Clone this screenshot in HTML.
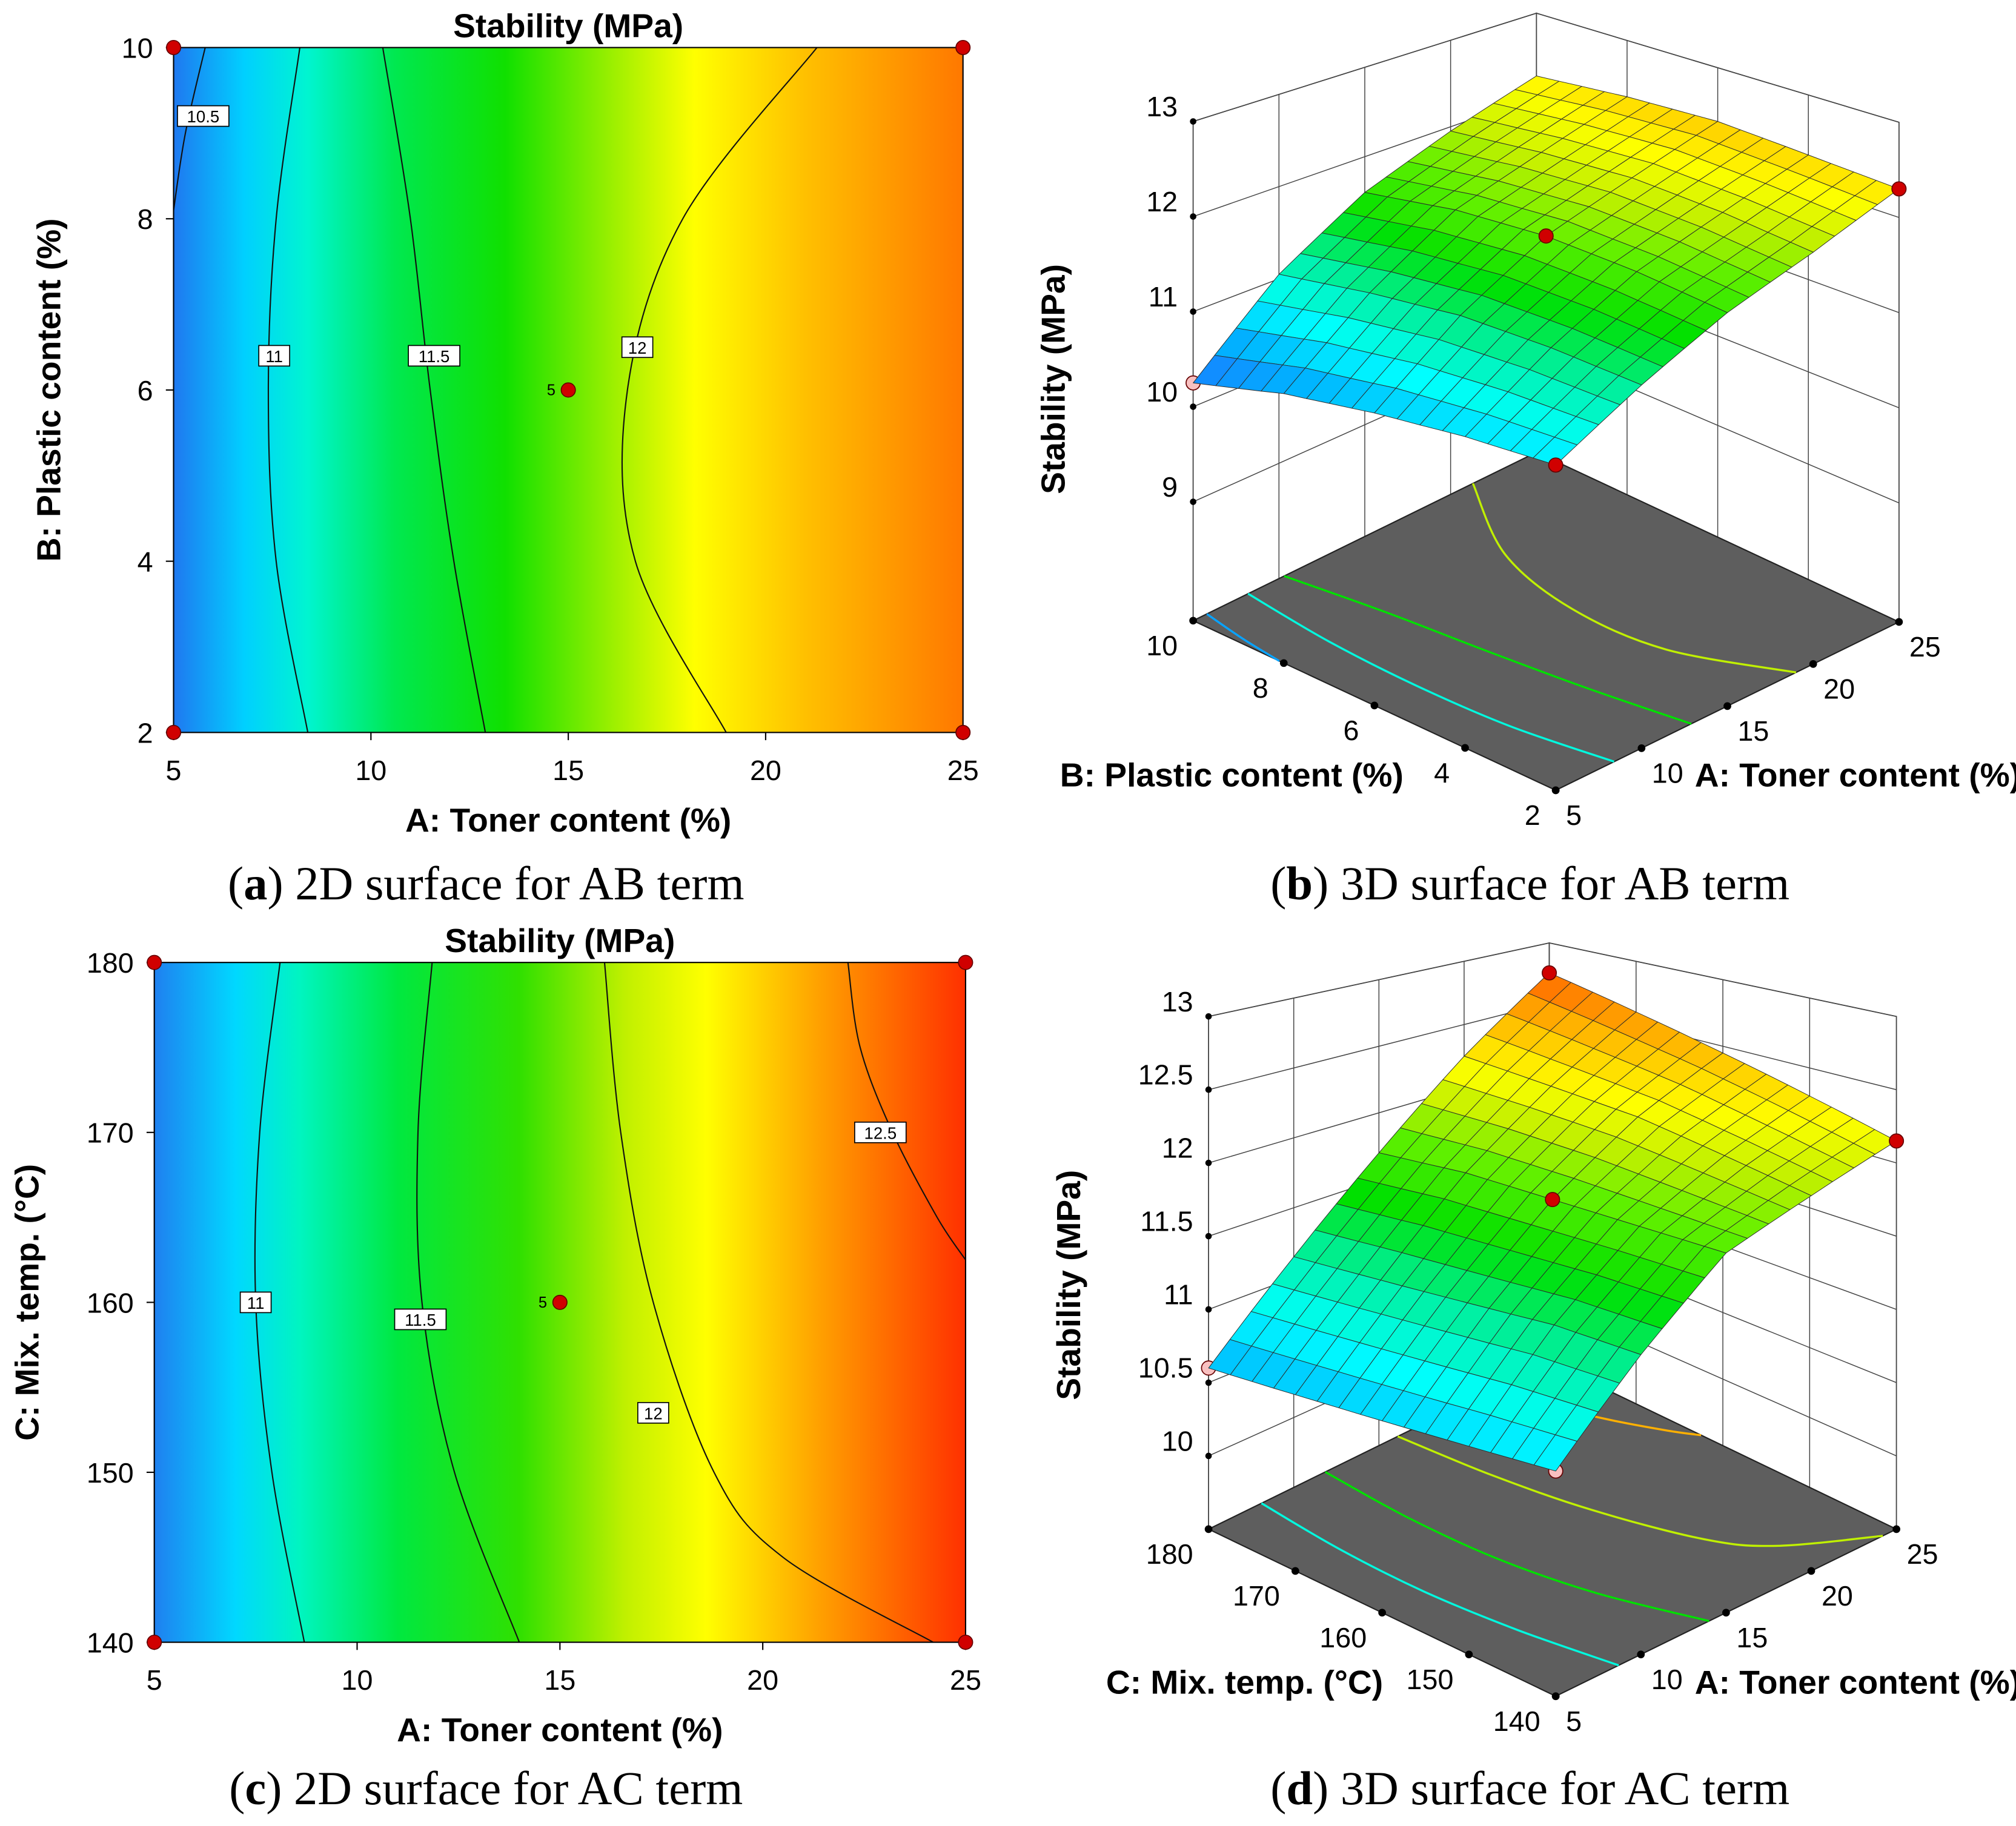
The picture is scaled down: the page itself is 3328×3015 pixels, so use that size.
<!DOCTYPE html>
<html><head><meta charset="utf-8">
<style>
html,body{margin:0;padding:0;background:#fff;}
svg{display:block;}
text{font-family:"Liberation Sans",Arial,sans-serif;}
.cap{font-family:"Liberation Serif",serif;font-size:37px;}
.ax{font-weight:bold;font-size:26px;}
.tk{font-size:22px;}
</style></head><body>
<svg id="fig" width="3328" height="3015" viewBox="0 0 1568 1421" preserveAspectRatio="none" xmlns="http://www.w3.org/2000/svg">
<defs>
<linearGradient id="gA" x1="0" x2="1" y1="0" y2="0">
<stop offset="0" stop-color="#1f78f0"/><stop offset="0.09" stop-color="#00d0ff"/><stop offset="0.17" stop-color="#00f5d0"/><stop offset="0.28" stop-color="#00e850"/><stop offset="0.42" stop-color="#10e000"/><stop offset="0.56" stop-color="#a0f000"/><stop offset="0.66" stop-color="#ffff00"/><stop offset="0.8" stop-color="#ffc000"/><stop offset="1" stop-color="#ff7800"/>
</linearGradient>
<linearGradient id="gC" x1="0" x2="1" y1="0" y2="0">
<stop offset="0" stop-color="#1f80f0"/><stop offset="0.1" stop-color="#00d8ff"/><stop offset="0.18" stop-color="#00f5c0"/><stop offset="0.3" stop-color="#00e840"/><stop offset="0.45" stop-color="#30e000"/><stop offset="0.58" stop-color="#c0f000"/><stop offset="0.68" stop-color="#ffff00"/><stop offset="0.82" stop-color="#ffa000"/><stop offset="1" stop-color="#ff3000"/>
</linearGradient>
</defs>
<g id="root"></g>
</svg>
<script>
// ---------- data ----------
const aTicks=[5,10,15,20,25];
const bTicks=[2,4,6,8,10];
const cTicks=[140,150,160,170,180];
const zTicksB=[9,10,11,12,13];
const zTicksD=[10,10.5,11,11.5,12,12.5,13];
// surface values Zab[b index][a index]
const Zab=[[10.80,11.25,11.65,11.95,12.30],[10.75,11.30,11.75,12.05,12.35],[10.65,11.30,11.80,12.10,12.40],[10.50,11.20,11.75,12.05,12.35],[10.25,11.05,11.60,11.95,12.25]];
const Zac=[[10.80,11.30,11.75,11.95,12.15],[10.75,11.30,11.75,12.05,12.30],[10.70,11.25,11.75,12.15,12.45],[10.65,11.20,11.75,12.20,12.60],[10.60,11.15,11.70,12.25,12.75]];
// contours AB: [B,A] pairs
const abLevels=[10.5,11,11.5,12];
const ab105=[[8.1,5],[9,5.3],[10,5.8]];
const ab11=[[10,8.2],[8,7.6],[6,7.4],[4,7.6],[2,8.4]];
const ab115=[[10,10.3],[8,11.0],[6,11.5],[4,12.1],[2,12.9]];
const ab12=[[10,21.3],[8,17.9],[6,16.5],[4,16.7],[2,19.0]];
const abLabelPos=[[5.75,9.2],[7.55,6.4],[11.6,6.4],[16.75,6.5]];
// contours AC: [C,A] pairs
const acLevels=[11,11.5,12,12.5];
const ac11=[[180,8.1],[170,7.6],[160,7.5],[150,7.9],[140,8.7]];
const ac115=[[180,11.85],[170,11.5],[160,11.6],[150,12.4],[140,14.0]];
const ac12=[[180,16.1],[170,16.5],[160,17.3],[150,18.8],[145,20.5],[140,24.2]];
const ac125=[[180,22.1],[175,22.4],[170,23.2],[165,24.3],[162.5,25]];
const acLabelPos=[[7.5,160],[11.56,159],[17.3,153.5],[22.9,170]];

// ---------- helpers ----------
const NS="http://www.w3.org/2000/svg";
const root=document.getElementById('root');
function mk(tag,attrs,parent,txt){const e=document.createElementNS(NS,tag);for(const k in attrs)e.setAttribute(k,attrs[k]);if(txt!==undefined)e.textContent=txt;(parent||root).appendChild(e);return e;}
const cmapV=[10.2,10.6,10.9,11.2,11.5,11.8,12.0,12.2,12.5,12.8,13.0];
const cmapC=[[31,111,255],[0,180,255],[0,255,255],[0,240,160],[0,224,0],[96,240,0],[192,240,0],[255,255,0],[255,176,0],[255,80,0],[255,0,0]];
function cmap(v){if(v<=cmapV[0])return 'rgb('+cmapC[0]+')';for(let i=1;i<cmapV.length;i++){if(v<=cmapV[i]){const t=(v-cmapV[i-1])/(cmapV[i]-cmapV[i-1]);const c=cmapC[i-1].map((x,j)=>Math.round(x+(cmapC[i][j]-x)*t));return 'rgb('+c+')';}}return 'rgb('+cmapC[cmapC.length-1]+')';}
function smooth(pts){let d='M'+pts[0][0].toFixed(1)+','+pts[0][1].toFixed(1);for(let i=0;i<pts.length-1;i++){const p0=pts[i-1]||pts[i],p1=pts[i],p2=pts[i+1],p3=pts[i+2]||p2;const c1=[p1[0]+(p2[0]-p0[0])/6,p1[1]+(p2[1]-p0[1])/6],c2=[p2[0]-(p3[0]-p1[0])/6,p2[1]-(p3[1]-p1[1])/6];d+='C'+c1.map(v=>v.toFixed(1))+' '+c2.map(v=>v.toFixed(1))+' '+p2.map(v=>v.toFixed(1));}return d;}
function dot(x,y,fill,parent,name){const e=mk('ellipse',{cx:x,cy:y,rx:5.5,ry:5.5,fill:fill,stroke:'#600',"stroke-width":0.8},parent);return e;}

// ---------- 2D panel ----------
function panel2D(o){
  const g=mk('g',{});
  
  
  const X=a=>o.x0+(a-5)/20*(o.x1-o.x0);
  const Y=v=>o.y1-(v-o.ymin)/(o.ymax-o.ymin)*(o.y1-o.y0);
  const r=mk('rect',{x:o.x0,y:o.y0,width:o.x1-o.x0,height:o.y1-o.y0,fill:o.grad},g);
  
  
  o.contours.forEach((c,i)=>{
    const p=mk('path',{d:smooth(c.map(q=>[X(q[1]),Y(q[0])])),fill:'none',stroke:'#111',"stroke-width":1},g);
    
    
    const lp=o.labels[i];const lx=X(lp[0]),ly=Y(lp[1]);const txt=String(o.levels[i]);const w=txt.length*8+8;
    const lr=mk('rect',{x:lx-w/2,y:ly-8,width:w,height:16,fill:'#fff',stroke:'#000',"stroke-width":0.8},g);
    
    
    const t=mk('text',{x:lx,y:ly+5,"text-anchor":"middle","font-size":13},g,txt);
    
    
  });
  mk('rect',{x:o.x0,y:o.y0,width:o.x1-o.x0,height:o.y1-o.y0,fill:'none',stroke:'#000',"stroke-width":1},g);
  aTicks.forEach(a=>{mk('line',{x1:X(a),x2:X(a),y1:o.y1,y2:o.y1+6,stroke:'#000'},g);const t=mk('text',{x:X(a),y:o.y1+37,"text-anchor":"middle",class:'tk'},g,a);});
  o.yt.forEach(v=>{mk('line',{x1:o.x0-6,x2:o.x0,y1:Y(v),y2:Y(v),stroke:'#000'},g);const t=mk('text',{x:o.x0-16,y:Y(v)+8,"text-anchor":"end",class:'tk'},g,v);});
  const tt=mk('text',{x:(o.x0+o.x1)/2,y:o.y0-8,"text-anchor":"middle",class:'ax'},g,'Stability (MPa)');
  const xl=mk('text',{x:(o.x0+o.x1)/2,y:o.y1+77,"text-anchor":"middle",class:'ax'},g,'A: Toner content (%)');
  const yc=(o.y0+o.y1)/2;
  const yl=mk('text',{x:o.ylx,y:yc,"text-anchor":"middle",class:'ax',transform:'rotate(-90 '+o.ylx+' '+yc+')'},g,o.ytitle);
  [[5,o.ymin],[5,o.ymax],[25,o.ymin],[25,o.ymax],[15,(o.ymin+o.ymax)/2]].forEach(p=>dot(X(p[0]),Y(p[1]),'#d00000',g,'design-point'));
  const f=mk('text',{x:X(15)-10,y:Y((o.ymin+o.ymax)/2)+4,"text-anchor":"end","font-size":12},g,'5');
}
panel2D({name:'panel-a-contour',x0:135,x1:749,y0:37,y1:570,ymin:2,ymax:10,yt:bTicks,grad:'url(#gA)',contours:[ab105,ab11,ab115,ab12],levels:abLevels,labels:abLabelPos,ytitle:'B: Plastic content (%)',ylx:47});
panel2D({name:'panel-c-contour',x0:120,x1:751,y0:749,y1:1278,ymin:140,ymax:180,yt:cTicks,grad:'url(#gC)',contours:[ac11,ac115,ac12,ac125],levels:acLevels,labels:acLabelPos,ytitle:'C: Mix. temp. (°C)',ylx:30});

// ---------- 3D panel ----------
function panel3D(o){
  const g=mk('g',{});
  
  
  const base=(a,v)=>[o.ox+(a-5)*o.ax[0]+(v-o.vmin)*o.vx[0], o.oy+(a-5)*o.ax[1]+(v-o.vmin)*o.vx[1]];
  const P=(a,v,z)=>{const b=base(a,v);const s=o.s0+(b[1]-o.sy)*o.sk;return [b[0],b[1]-(z-o.zf)*s];};
  const vmax=o.vt[o.vt.length-1],zTop=o.zt[o.zt.length-1];
  const wall=(pts,n)=>{const e=mk('polygon',{points:pts.map(p=>p.join(',')).join(' '),fill:'#fff',stroke:'#333',"stroke-width":0.8},g);};
  wall([P(5,vmax,o.zf),P(25,vmax,o.zf),P(25,vmax,zTop),P(5,vmax,zTop)],'back-wall-left');
  wall([P(25,o.vmin,o.zf),P(25,vmax,o.zf),P(25,vmax,zTop),P(25,o.vmin,zTop)],'back-wall-right');
  aTicks.forEach(a=>{const p1=P(a,vmax,o.zf),p2=P(a,vmax,zTop);mk('line',{x1:p1[0],y1:p1[1],x2:p2[0],y2:p2[1],stroke:'#444',"stroke-width":0.7},g);});
  o.vt.forEach(v=>{const p1=P(25,v,o.zf),p2=P(25,v,zTop);mk('line',{x1:p1[0],y1:p1[1],x2:p2[0],y2:p2[1],stroke:'#444',"stroke-width":0.7},g);});
  o.zt.forEach(z=>{let p1=P(5,vmax,z),p2=P(25,vmax,z),p3=P(25,o.vmin,z);mk('polyline',{points:[p1,p2,p3].map(p=>p.join(',')).join(' '),fill:'none',stroke:'#444',"stroke-width":0.7},g);
    mk('circle',{cx:p1[0],cy:p1[1],r:2.5,fill:'#000'},g);
    const t=mk('text',{x:p1[0]-12,y:p1[1]-4,"text-anchor":"end",class:'tk'},g,z);});
  const fl=mk('polygon',{points:[P(5,o.vmin,o.zf),P(25,o.vmin,o.zf),P(25,vmax,o.zf),P(5,vmax,o.zf)].map(p=>p.join(',')).join(' '),fill:'#5e5e5e',stroke:'#222',"stroke-width":1},g);
  
  o.contours.forEach((c,i)=>{const p=mk('path',{d:smooth(c.map(q=>P(q[1],q[0],o.zf))),fill:'none',stroke:cmap(o.levels[i]),"stroke-width":1.6},g);});
  aTicks.forEach(a=>{const p=P(a,o.vmin,o.zf);mk('circle',{cx:p[0],cy:p[1],r:3,fill:'#000'},g);const t=mk('text',{x:p[0]+8,y:p[1]+27,"text-anchor":"start",class:'tk'},g,a);});
  o.vt.forEach(v=>{const p=P(5,v,o.zf);mk('circle',{cx:p[0],cy:p[1],r:3,fill:'#000'},g);const t=mk('text',{x:p[0]-12,y:p[1]+27,"text-anchor":"end",class:'tk'},g,v);});
  o.hidden.forEach(h=>{const p=P(aTicks[h[0]],o.vt[h[1]],o.Z[h[1]][h[0]]);dot(p[0],p[1],'#f8c0c0',g,'design-point-below');});
  const N=4,cells=[];
  const zAt=(i,j,u,w)=>{const Z=o.Z;return Z[j][i]*(1-u)*(1-w)+Z[j][i+1]*u*(1-w)+Z[j+1][i]*(1-u)*w+Z[j+1][i+1]*u*w;};
  for(let j=0;j<4;j++)for(let i=0;i<4;i++)for(let sj=0;sj<N;sj++)for(let si=0;si<N;si++)cells.push([i,j,si,sj]);
  cells.sort((c1,c2)=>((c2[0]*N+c2[2])+(c2[1]*N+c2[3]))-((c1[0]*N+c1[2])+(c1[1]*N+c1[3])));
  cells.forEach(c=>{const [i,j,si,sj]=c;
    const corners=[[si,sj],[si+1,sj],[si+1,sj+1],[si,sj+1]].map(k=>{const u=k[0]/N,w=k[1]/N;const a=aTicks[i]+(aTicks[i+1]-aTicks[i])*u;const v=o.vt[j]+(o.vt[j+1]-o.vt[j])*w;return {p:P(a,v,zAt(i,j,u,w)),z:zAt(i,j,u,w)};});
    const avg=corners.reduce((s,k)=>s+k.z,0)/4;
    const e=mk('polygon',{points:corners.map(k=>k.p.map(v=>v.toFixed(1)).join(',')).join(' '),fill:cmap(avg),stroke:'#2a2a2a',"stroke-width":0.45,"stroke-linejoin":"round"},g);
    
    
  });
  o.shown.forEach(h=>{const p=P(aTicks[h[0]],o.vt[h[1]],o.Z[h[1]][h[0]]);dot(p[0],p[1],'#d00000',g,'design-point');});
  const al=mk('text',{x:o.alx,y:o.aly,"text-anchor":"middle",class:'ax'},g,'A: Toner content (%)');
  const vl=mk('text',{x:o.vlx,y:o.vly,"text-anchor":"middle",class:'ax'},g,o.vtitle);
  const zl=mk('text',{x:o.zlx,y:o.zly,"text-anchor":"middle",class:'ax',transform:'rotate(-90 '+o.zlx+' '+o.zly+')'},g,'Stability (MPa)');
}
panel3D({name:'panel-b-surface',ox:1210,oy:615,ax:[13.35,-6.55],vx:[-35.25,-16.5],vmin:2,s0:74,sy:483,sk:0.068,zf:7.75,vt:bTicks,zt:zTicksB,Z:Zab,
  contours:[ab105,ab11,ab115,ab12],levels:abLevels,hidden:[[0,4]],shown:[[0,0],[4,0],[2,2]],
  alx:1445,aly:612,vlx:958,vly:612,vtitle:'B: Plastic content (%)',zlx:828,zly:295});
panel3D({name:'panel-d-surface',ox:1210,oy:1320,ax:[13.25,-6.5],vx:[-6.75,-3.25],vmin:140,s0:114,sy:1190,sk:0.16,zf:9.5,vt:cTicks,zt:zTicksD,Z:Zac,
  contours:[ac11,ac115,ac12,ac125],levels:acLevels,hidden:[[0,4],[0,0]],shown:[[4,4],[4,0],[2,2]],
  alx:1445,aly:1318,vlx:968,vly:1318,vtitle:'C: Mix. temp. (°C)',zlx:840,zly:1000});

[[378,700,'a','2D surface for AB term'],[1190,700,'b','3D surface for AB term'],[378,1404,'c','2D surface for AC term'],[1190,1404,'d','3D surface for AC term']].forEach(c=>{
  const t=mk('text',{x:c[0],y:c[1],"text-anchor":"middle",class:'cap'});
  
  
  mk('tspan',{},t,'(');mk('tspan',{"font-weight":"bold"},t,c[2]);mk('tspan',{},t,') '+c[3]);
});
</script>
</body></html>
